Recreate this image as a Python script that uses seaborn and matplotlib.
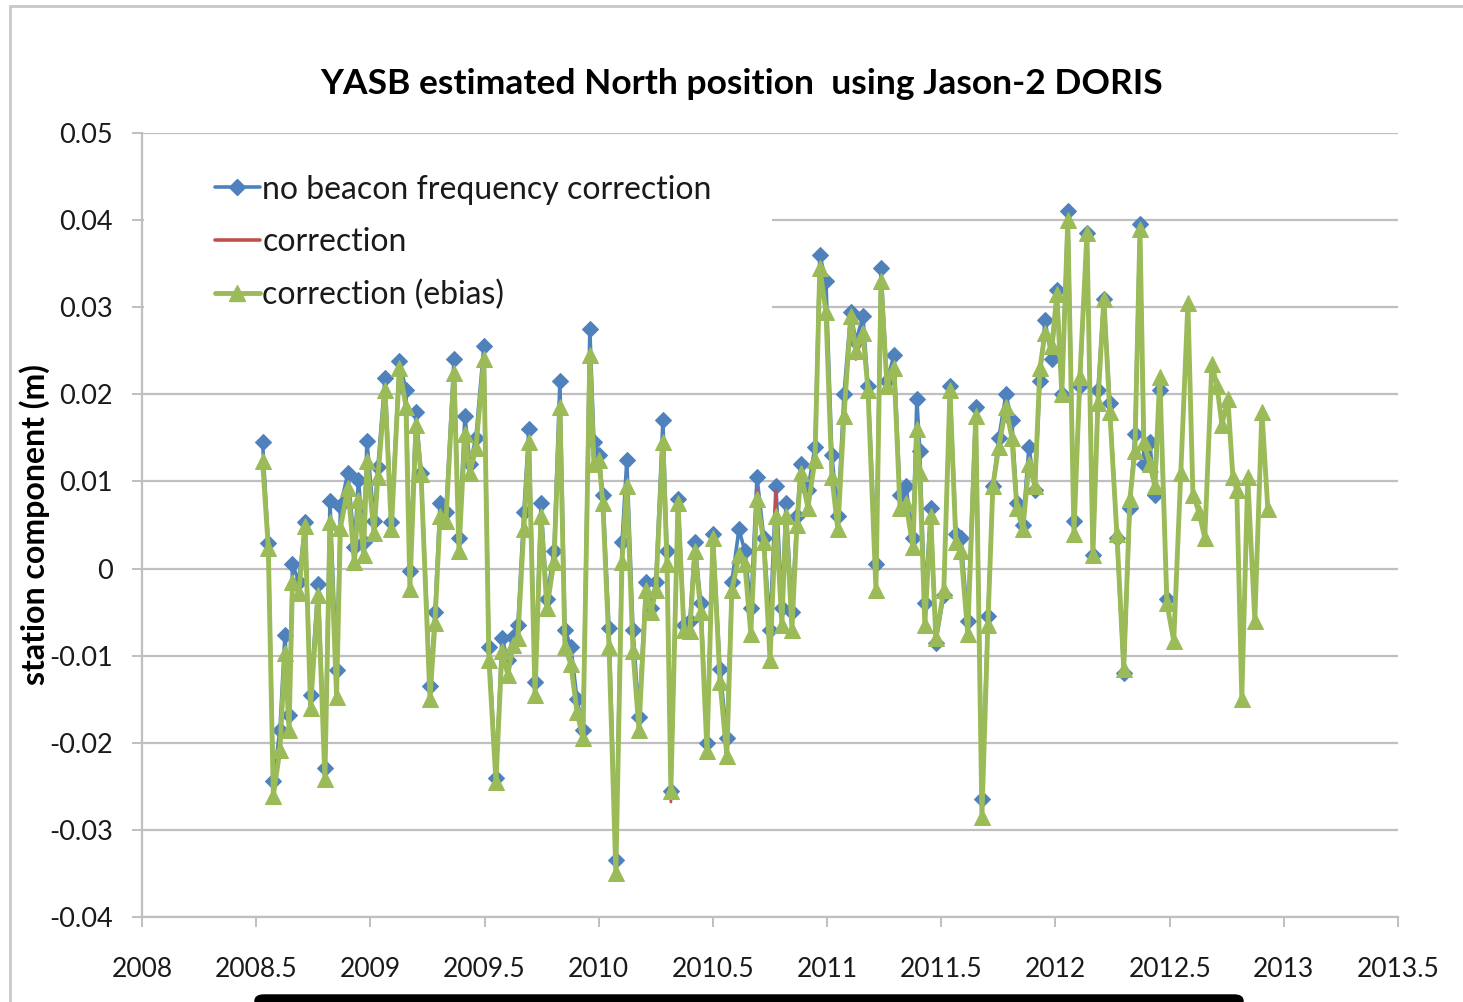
import matplotlib
matplotlib.use("Agg")
import matplotlib.pyplot as plt
from matplotlib.patches import Rectangle, FancyBboxPatch
from matplotlib.lines import Line2D
import seaborn as sns
import pandas as pd

# ---------------- data ----------------
years = [
    2008.528, 2008.553, 2008.575, 2008.604, 2008.626, 2008.644, 2008.659, 2008.687, 2008.714, 2008.738,
    2008.771, 2008.801, 2008.823, 2008.852, 2008.869, 2008.902, 2008.930, 2008.948, 2008.970, 2008.985,
    2009.016, 2009.033, 2009.064, 2009.092, 2009.127, 2009.156, 2009.173, 2009.200, 2009.222, 2009.261,
    2009.283, 2009.305, 2009.331, 2009.366, 2009.388, 2009.414, 2009.436, 2009.462, 2009.497, 2009.519,
    2009.550, 2009.576, 2009.602, 2009.624, 2009.646, 2009.672, 2009.694, 2009.721, 2009.747, 2009.773,
    2009.804, 2009.830, 2009.852, 2009.878, 2009.905, 2009.931, 2009.961, 2009.979, 2010.001, 2010.018,
    2010.045, 2010.075, 2010.102, 2010.123, 2010.150, 2010.176, 2010.207, 2010.229, 2010.250, 2010.281,
    2010.299, 2010.316, 2010.347, 2010.373, 2010.399, 2010.421, 2010.447, 2010.474, 2010.500, 2010.531,
    2010.561, 2010.583, 2010.614, 2010.640, 2010.666, 2010.693, 2010.723, 2010.750, 2010.776, 2010.802,
    2010.820, 2010.846, 2010.868, 2010.885, 2010.916, 2010.947, 2010.968, 2010.995, 2011.021, 2011.047,
    2011.074, 2011.104, 2011.126, 2011.157, 2011.179, 2011.214, 2011.236, 2011.262, 2011.293, 2011.319,
    2011.345, 2011.376, 2011.393, 2011.406, 2011.428, 2011.454, 2011.476, 2011.511, 2011.538, 2011.564,
    2011.586, 2011.616, 2011.651, 2011.678, 2011.704, 2011.726, 2011.752, 2011.783, 2011.809, 2011.831,
    2011.857, 2011.884, 2011.910, 2011.932, 2011.954, 2011.984, 2012.006, 2012.028, 2012.054, 2012.081,
    2012.107, 2012.138, 2012.164, 2012.186, 2012.212, 2012.238, 2012.269, 2012.299, 2012.326, 2012.348,
    2012.370, 2012.387, 2012.413, 2012.435, 2012.457, 2012.488, 2012.518, 2012.549, 2012.580, 2012.602,
    2012.628, 2012.654, 2012.685, 2012.707, 2012.729, 2012.755, 2012.777, 2012.794, 2012.816, 2012.842,
    2012.873, 2012.904, 2012.930,
]

no_beacon = [
    0.0145, 0.0029, -0.0244, -0.0185, -0.0076, -0.0168, 0.0005, -0.0015, 0.0054, -0.0145,
    -0.0018, -0.0229, 0.0077, -0.0116, 0.0072, 0.0110, 0.0025, 0.0102, 0.0030, 0.0146,
    0.0055, 0.0117, 0.0219, 0.0054, 0.0238, 0.0205, -0.0003, 0.0180, 0.0110, -0.0135,
    -0.0050, 0.0075, 0.0065, 0.0240, 0.0035, 0.0175, 0.0120, 0.0150, 0.0255, -0.0090,
    -0.0240, -0.0080, -0.0105, -0.0078, -0.0065, 0.0065, 0.0160, -0.0130, 0.0075, -0.0035,
    0.0020, 0.0215, -0.0070, -0.0090, -0.0150, -0.0185, 0.0275, 0.0145, 0.0130, 0.0085,
    -0.0068, -0.0335, 0.0030, 0.0125, -0.0070, -0.0170, -0.0015, -0.0045, -0.0015, 0.0170,
    0.0020, -0.0255, 0.0080, -0.0065, -0.0060, 0.0030, -0.0040, -0.0200, 0.0040, -0.0115,
    -0.0195, -0.0015, 0.0045, 0.0020, -0.0045, 0.0105, 0.0035, -0.0070, 0.0095, -0.0045,
    0.0075, -0.0050, 0.0060, 0.0120, 0.0090, 0.0140, 0.0360, 0.0330, 0.0130, 0.0060,
    0.0200, 0.0295, 0.0260, 0.0290, 0.0210, 0.0005, 0.0345, 0.0215, 0.0245, 0.0085,
    0.0095, 0.0035, 0.0195, 0.0135, -0.0040, 0.0070, -0.0085, -0.0030, 0.0210, 0.0040,
    0.0035, -0.0060, 0.0185, -0.0265, -0.0055, 0.0095, 0.0150, 0.0200, 0.0170, 0.0075,
    0.0050, 0.0140, 0.0090, 0.0215, 0.0285, 0.0240, 0.0320, 0.0200, 0.0410, 0.0055,
    0.0210, 0.0385, 0.0015, 0.0205, 0.0310, 0.0190, 0.0035, -0.0120, 0.0070, 0.0155,
    0.0395, 0.0120, 0.0145, 0.0085, 0.0205, -0.0035,
]

correction = [
    0.0123, 0.0024, -0.0261, -0.0208, -0.0097, -0.0185, -0.0015, -0.0028, 0.0049, -0.0160,
    -0.0030, -0.0242, 0.0053, -0.0147, 0.0047, 0.0093, 0.0007, 0.0079, 0.0016, 0.0123,
    0.0041, 0.0105, 0.0205, 0.0045, 0.0230, 0.0186, -0.0024, 0.0165, 0.0108, -0.0150,
    -0.0062, 0.0060, 0.0055, 0.0225, 0.0020, 0.0155, 0.0110, 0.0138, 0.0240, -0.0105,
    -0.0245, -0.0095, -0.0122, -0.0088, -0.0080, 0.0045, 0.0145, -0.0145, 0.0060, -0.0045,
    0.0008, 0.0185, -0.0090, -0.0110, -0.0165, -0.0195, 0.0245, 0.0120, 0.0125, 0.0075,
    -0.0090, -0.0352, 0.0008, 0.0095, -0.0095, -0.0185, -0.0025, -0.0055, -0.0025, 0.0145,
    0.0005, -0.0268, 0.0075, -0.0070, -0.0072, 0.0020, -0.0050, -0.0210, 0.0035, -0.0130,
    -0.0215, -0.0025, 0.0015, 0.0005, -0.0075, 0.0090, 0.0030, -0.0105, 0.0090, -0.0065,
    0.0060, -0.0070, 0.0050, 0.0110, 0.0070, 0.0125, 0.0345, 0.0295, 0.0105, 0.0045,
    0.0175, 0.0290, 0.0240, 0.0270, 0.0205, -0.0025, 0.0330, 0.0210, 0.0230, 0.0070,
    0.0075, 0.0025, 0.0160, 0.0110, -0.0065, 0.0060, -0.0080, -0.0025, 0.0205, 0.0030,
    0.0020, -0.0075, 0.0175, -0.0285, -0.0065, 0.0095, 0.0140, 0.0185, 0.0150, 0.0070,
    0.0045, 0.0120, 0.0095, 0.0230, 0.0270, 0.0255, 0.0315, 0.0200, 0.0400, 0.0040,
    0.0220, 0.0385, 0.0015, 0.0190, 0.0310, 0.0180, 0.0040, -0.0115, 0.0080, 0.0135,
    0.0390, 0.0145, 0.0120, 0.0095, 0.0220, -0.0040,
]

correction_ebias = [
    0.0123, 0.0024, -0.0261, -0.0208, -0.0097, -0.0185, -0.0015, -0.0028, 0.0049, -0.0160,
    -0.0030, -0.0242, 0.0053, -0.0147, 0.0047, 0.0093, 0.0007, 0.0079, 0.0016, 0.0123,
    0.0041, 0.0105, 0.0205, 0.0045, 0.0230, 0.0186, -0.0024, 0.0165, 0.0108, -0.0150,
    -0.0062, 0.0060, 0.0055, 0.0225, 0.0020, 0.0155, 0.0110, 0.0138, 0.0240, -0.0105,
    -0.0245, -0.0095, -0.0122, -0.0088, -0.0080, 0.0045, 0.0145, -0.0145, 0.0060, -0.0045,
    0.0008, 0.0185, -0.0090, -0.0110, -0.0165, -0.0195, 0.0245, 0.0120, 0.0125, 0.0075,
    -0.0090, -0.0350, 0.0008, 0.0095, -0.0095, -0.0185, -0.0025, -0.0050, -0.0025, 0.0145,
    0.0005, -0.0255, 0.0075, -0.0070, -0.0072, 0.0020, -0.0050, -0.0210, 0.0035, -0.0130,
    -0.0215, -0.0025, 0.0015, 0.0005, -0.0075, 0.0080, 0.0030, -0.0105, 0.0060, -0.0065,
    0.0060, -0.0070, 0.0050, 0.0110, 0.0070, 0.0125, 0.0345, 0.0295, 0.0105, 0.0045,
    0.0175, 0.0290, 0.0250, 0.0270, 0.0205, -0.0025, 0.0330, 0.0210, 0.0230, 0.0070,
    0.0075, 0.0025, 0.0160, 0.0110, -0.0065, 0.0060, -0.0080, -0.0025, 0.0205, 0.0030,
    0.0020, -0.0075, 0.0175, -0.0285, -0.0065, 0.0095, 0.0140, 0.0185, 0.0150, 0.0070,
    0.0045, 0.0120, 0.0095, 0.0230, 0.0270, 0.0255, 0.0315, 0.0200, 0.0400, 0.0040,
    0.0220, 0.0385, 0.0015, 0.0190, 0.0310, 0.0180, 0.0040, -0.0115, 0.0080, 0.0135,
    0.0390, 0.0145, 0.0120, 0.0095, 0.0220, -0.0040, -0.0083, 0.0110, 0.0305, 0.0085,
    0.0065, 0.0035, 0.0235, 0.0210, 0.0165, 0.0195, 0.0105, 0.0090, -0.0150, 0.0105,
    -0.0060, 0.0180, 0.0068,
]

labels = ["no beacon frequency correction", "correction", "correction (ebias)"]
x_ticks = [2008, 2008.5, 2009, 2009.5, 2010, 2010.5, 2011, 2011.5, 2012, 2012.5, 2013, 2013.5]
x_tick_labels = ["2008", "2008.5", "2009", "2009.5", "2010", "2010.5", "2011", "2011.5",
                 "2012", "2012.5", "2013", "2013.5"]
y_ticks = [-0.04, -0.03, -0.02, -0.01, 0, 0.01, 0.02, 0.03, 0.04, 0.05]
y_tick_labels = ["-0.04", "-0.03", "-0.02", "-0.01", "0", "0.01", "0.02", "0.03", "0.04", "0.05"]
title = "YASB estimated North position  using Jason-2 DORIS"
ylabel = "station component (m)"

# ---------------- style ----------------
sns.set_theme(style="white")
plt.rcParams["font.family"] = ["Lato", "DejaVu Sans"]

BLUE = "#4F81BD"
RED = "#C0504D"
GREEN = "#9BBB59"
GRID = "#BFBFBF"
TXT = "#1a1a1a"

fig = plt.figure(figsize=(14.63, 10.02), dpi=100)
ax = fig.add_axes([142 / 1463, 1 - 917 / 1002, 1256 / 1463, 784 / 1002])

n_b = len(no_beacon)
df_b = pd.DataFrame({"year": years[:n_b], "value": no_beacon})
df_r = pd.DataFrame({"year": years[:len(correction)], "value": correction})
df_g = pd.DataFrame({"year": years, "value": correction_ebias})

sns.lineplot(data=df_b, x="year", y="value", ax=ax, color=BLUE, lw=2.6, marker="D",
             markersize=8.5, markeredgecolor=BLUE, sort=False, estimator=None, zorder=3)
sns.lineplot(data=df_r, x="year", y="value", ax=ax, color=RED, lw=2.0, sort=False,
             estimator=None, zorder=4)
sns.lineplot(data=df_g, x="year", y="value", ax=ax, color=GREEN, lw=3.5, marker="^",
             markersize=11, markeredgecolor=GREEN, sort=False, estimator=None, zorder=5)

ax.set_xlim(2008, 2013.5)
ax.set_ylim(-0.04, 0.05)
ax.set_xticks(x_ticks)
ax.set_xticklabels(x_tick_labels, fontsize=19, color=TXT)
ax.set_yticks(y_ticks)
ax.set_yticklabels(y_tick_labels, fontsize=19.5, color=TXT)
ax.yaxis.grid(True, color=GRID, lw=1.6, zorder=0)
ax.xaxis.grid(False)
ax.set_axisbelow(True)
for s in ["top", "right"]:
    ax.spines[s].set_visible(False)
for s in ["left", "bottom"]:
    ax.spines[s].set_color(GRID)
    ax.spines[s].set_linewidth(1.6)
ax.tick_params(axis="both", which="major", direction="out", length=7, width=1.4,
               color=GRID, left=True, bottom=True)
ax.tick_params(axis="y", pad=14)
ax.tick_params(axis="x", pad=22)

ax.set_xlabel("")
ax.set_ylabel(ylabel, fontsize=23, fontweight="bold", color="black")
ax.yaxis.set_label_coords(-0.073, 0.5)

fig.text(742 / 1463, 1 - 84 / 1002, title, ha="center", va="center",
         fontsize=25.5, fontweight="bold", color="black")

# white legend area hiding gridlines (as in the spreadsheet chart)
ax.add_patch(Rectangle((0.0015, 0.745), 0.5, 0.235, transform=ax.transAxes,
                       facecolor="white", edgecolor="none", zorder=1))

handles = [
    Line2D([], [], color=BLUE, lw=2.6, marker="D", markersize=8.5, markeredgecolor=BLUE),
    Line2D([], [], color=RED, lw=2.6),
    Line2D([], [], color=GREEN, lw=3.5, marker="^", markersize=11, markeredgecolor=GREEN),
]
leg = ax.legend(handles, labels, loc="upper left", bbox_to_anchor=(0.058, 0.947),
                borderaxespad=0, borderpad=0, frameon=False, fontsize=23,
                handlelength=1.4, handletextpad=0.08, labelspacing=0.7)
for t in leg.get_texts():
    t.set_color(TXT)

# chart-area border and bottom bar
fig.patches.append(Rectangle((10 / 1463, -0.2), 2.0, 1.2 - 6 / 1002, transform=fig.transFigure,
                             fill=False, edgecolor="#C8C8C8", lw=2.0, zorder=0))
fig.patches.append(FancyBboxPatch((255 / 1463, -0.01), (1243 - 255) / 1463, 0.017,
                                  boxstyle="round,pad=0,rounding_size=0.006",
                                  transform=fig.transFigure, facecolor="black",
                                  edgecolor="black", zorder=0))

fig.savefig("out.png", dpi=100)
